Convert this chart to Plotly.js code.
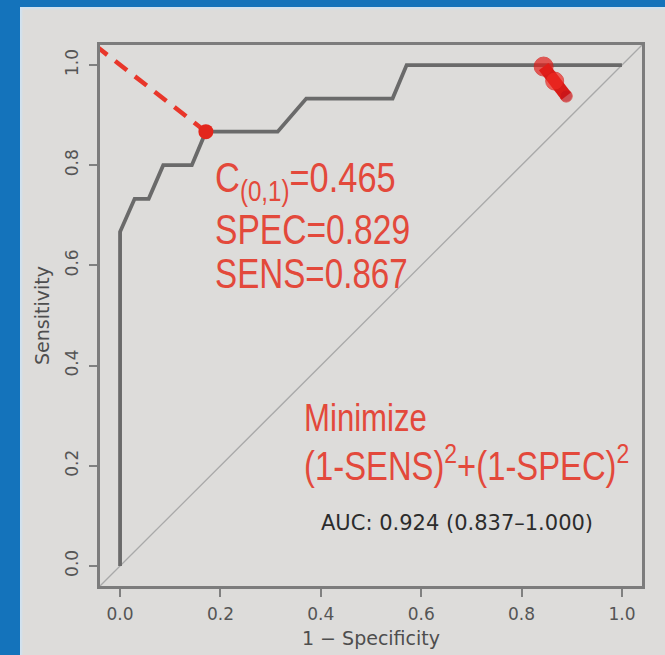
<!DOCTYPE html>
<html>
<head>
<meta charset="utf-8">
<script src="https://cdn.plot.ly/plotly-3.0.1.min.js"></script>
<style>
  html, body { margin: 0; padding: 0; width: 665px; height: 655px; overflow: hidden; background: #1473bb; }
  #frame { position: absolute; left: 20px; top: 7px; width: 645px; height: 648px;
           background: #dddcda; box-shadow: inset 2px 2px 2px #cfe2f2; }
  #chart { position: absolute; left: 0; top: 0; width: 645px; height: 648px; }
</style>
</head>
<body>
<div id="frame"><div id="chart"></div></div>
<script>
// ROC curve (1 - specificity, sensitivity)
const fpr = [0, 0, 0.029, 0.057, 0.086, 0.143, 0.171, 0.314, 0.371, 0.543, 0.571, 1.0];
const tpr = [0, 0.667, 0.733, 0.733, 0.8, 0.8, 0.867, 0.867, 0.933, 0.933, 1.0, 1.0];

// chance diagonal
const diagX = [-0.04, 1.04];
const diagY = [-0.04, 1.04];

// optimal cut-off point and the distance line to the top-left corner
const optX = [0.171];
const optY = [0.867];
const distX = [0.171, -0.043];
const distY = [0.867, 1.034];

// red pointer blob near the top right
const pointerX = [0.844, 0.866, 0.889];
const pointerY = [0.997, 0.968, 0.938];

// tick labels
const tickVals = [0, 0.2, 0.4, 0.6, 0.8, 1.0];
const tickText = ['0.0', '0.2', '0.4', '0.6', '0.8', '1.0'];

// annotation texts
const cutoffText = 'C<sub>(0,1)</sub>=0.465';
const specText = 'SPEC=0.829';
const sensText = 'SENS=0.867';
const minText = 'Minimize';
const formulaText = '(1-SENS)<sup>2</sup>+(1-SPEC)<sup>2</sup>';
const aucText = 'AUC: 0.924 (0.837\u20131.000)';

const RED = '#e3493b';
const sansFont = 'Liberation Sans, Arial, sans-serif';
const rFont = 'DejaVu Sans, Liberation Sans, sans-serif';
// the slide's red text is a condensed sans: horizontal scale per red annotation
const condense = [0.82, 0.80, 0.79, 0.82, 0.82];

const traces = [
  { x: diagX, y: diagY, mode: 'lines', line: { color: '#a9a9a9', width: 1.3 }, hoverinfo: 'skip', showlegend: false },
  { x: fpr, y: tpr, mode: 'lines', line: { color: '#6a6a6a', width: 3.8 }, showlegend: false },
  { x: distX, y: distY, mode: 'lines', line: { color: '#e8362a', width: 4.5, dash: '15px,10px' }, showlegend: false },
  { x: optX, y: optY, mode: 'markers', marker: { color: '#e3261c', size: 15, line: { width: 0 } }, showlegend: false },
  { x: pointerX, y: pointerY, mode: 'lines+markers', line: { color: '#d81c18', width: 12 },
    marker: { color: ['#e41e1a', '#f02a22', '#c8141a'], size: [19, 18, 12] }, showlegend: false }
];

const axisCommon = {
  range: [-0.04, 1.04],
  tickvals: tickVals,
  ticktext: tickText,
  ticks: 'outside',
  ticklen: 8,
  tickwidth: 2,
  tickcolor: '#808080',
  showline: true,
  mirror: true,
  linecolor: '#7c7c7c',
  linewidth: 3,
  showgrid: false,
  zeroline: false,
  fixedrange: true,
  tickfont: { family: rFont, size: 17, color: '#555555' }
};

const layout = {
  width: 645,
  height: 648,
  margin: { l: 80, r: 23, t: 38, b: 69 },
  paper_bgcolor: 'rgba(0,0,0,0)',
  plot_bgcolor: '#dddcda',
  showlegend: false,
  xaxis: Object.assign({}, axisCommon, {
    ticklabelstandoff: 3,
    title: { text: '1 \u2212 Specificity', font: { family: rFont, size: 19, color: '#4e4e4e' }, standoff: 9 }
  }),
  yaxis: Object.assign({}, axisCommon, {
    tickangle: -90,
    ticklabelstandoff: 4,
    title: { text: 'Sensitivity', font: { family: rFont, size: 19, color: '#4e4e4e' }, standoff: 8 }
  }),
  annotations: [
    { x: 0.185, y: 0.770, xref: 'x', yref: 'y', text: cutoffText, showarrow: false, xanchor: 'left', yanchor: 'middle',
      font: { family: sansFont, size: 42, color: RED } },
    { x: 0.185, y: 0.671, xref: 'x', yref: 'y', text: specText, showarrow: false, xanchor: 'left', yanchor: 'middle',
      font: { family: sansFont, size: 42, color: RED } },
    { x: 0.185, y: 0.583, xref: 'x', yref: 'y', text: sensText, showarrow: false, xanchor: 'left', yanchor: 'middle',
      font: { family: sansFont, size: 42, color: RED } },
    { x: 0.363, y: 0.295, xref: 'x', yref: 'y', text: minText, showarrow: false, xanchor: 'left', yanchor: 'middle',
      font: { family: sansFont, size: 38, color: RED } },
    { x: 0.363, y: 0.206, xref: 'x', yref: 'y', text: formulaText, showarrow: false, xanchor: 'left', yanchor: 'middle',
      font: { family: sansFont, size: 40, color: RED } },
    { x: 0.672, y: 0.086, xref: 'x', yref: 'y', text: aucText, showarrow: false, xanchor: 'center', yanchor: 'middle',
      font: { family: rFont, size: 21, color: '#2c2c2c' } }
  ]
};

Plotly.newPlot('chart', traces, layout, { displayModeBar: false, staticPlot: true }).then(function (gd) {
  // condense the red slide texts horizontally, keeping their left edge in place
  const groups = gd.querySelectorAll('.annotation');
  groups.forEach(function (g, i) {
    if (i >= condense.length) return;
    const t = g.querySelector('text.annotation-text');
    if (!t) return;
    const bb = t.getBBox();
    const prev = t.getAttribute('transform') || '';
    t.setAttribute('transform', prev + ' translate(' + bb.x + ',0) scale(' + condense[i] + ',1) translate(' + (-bb.x) + ',0)');
  });
});
</script>
</body>
</html>
